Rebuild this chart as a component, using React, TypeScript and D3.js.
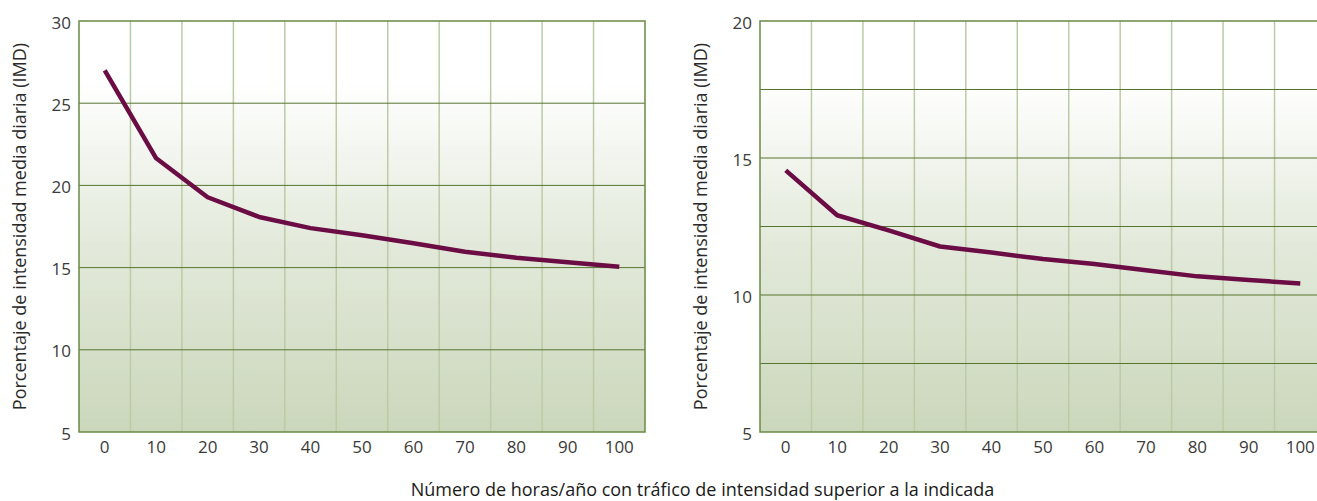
import { useEffect, useRef } from 'react';
import * as d3 from 'd3';

// horas/año (categorias del eje X)
const hours = [0, 10, 20, 30, 40, 50, 60, 70, 80, 90, 100];

// % IMD, grafico izquierdo
const leftValues = [27.0, 21.65, 19.28, 18.08, 17.4, 16.97, 16.48, 15.96, 15.6, 15.32, 15.05];
// % IMD, grafico derecho
const rightValues = [14.55, 12.91, 12.36, 11.77, 11.55, 11.31, 11.13, 10.9, 10.68, 10.55, 10.42];

const leftTicks = [5, 10, 15, 20, 25, 30];
const rightTicks = [5, 10, 15, 20];
const rightGrid = [7.5, 10, 12.5, 15, 17.5];

const yTitle = 'Porcentaje de intensidad media diaria (IMD)';
const xTitle = 'Número de horas/año con tráfico de intensidad superior a la indicada';

const W = 1317;
const H = 501;
const FONT = '"Open Sans", "Noto Sans", sans-serif';

export default function App() {
	const svgRef = useRef<SVGSVGElement | null>(null);

	useEffect(() => {
		if (!svgRef.current) return;
		const svg = d3.select(svgRef.current);
		svg.selectAll('*').remove();

		const top = 21;
		const bottom = 432;
		const plotW = 566;

		// fondo degradado
		const defs = svg.append('defs');
		const grad = defs
			.append('linearGradient')
			.attr('id', 'bg')
			.attr('x1', 0)
			.attr('y1', 0)
			.attr('x2', 0)
			.attr('y2', 1);
		grad.append('stop').attr('offset', '0%').attr('stop-color', '#ffffff');
		grad.append('stop').attr('offset', '15%').attr('stop-color', '#ffffff');
		grad.append('stop').attr('offset', '55%').attr('stop-color', '#e2e9da');
		grad.append('stop').attr('offset', '100%').attr('stop-color', '#cbd7bb');

		const drawPanel = (
			x0: number,
			values: number[],
			domain: [number, number],
			ticks: number[],
			grid: number[],
			titleX: number
		) => {
			const x = d3
				.scaleBand<number>()
				.domain(hours)
				.range([x0, x0 + plotW])
				.paddingInner(0)
				.paddingOuter(0);
			const y = d3.scaleLinear().domain(domain).range([bottom, top]);

			const g = svg.append('g');

			g.append('rect')
				.attr('x', x0)
				.attr('y', top)
				.attr('width', plotW)
				.attr('height', bottom - top)
				.attr('fill', 'url(#bg)');

			// lineas verticales (limites de banda)
			g.append('g')
				.selectAll('line')
				.data(hours.slice(1))
				.join('line')
				.attr('x1', (d) => x(d)!)
				.attr('x2', (d) => x(d)!)
				.attr('y1', top)
				.attr('y2', bottom)
				.attr('stroke', '#bccba6')
				.attr('stroke-width', 1.5);

			// lineas horizontales
			g.append('g')
				.selectAll('line')
				.data(grid)
				.join('line')
				.attr('x1', x0)
				.attr('x2', x0 + plotW)
				.attr('y1', (d) => y(d))
				.attr('y2', (d) => y(d))
				.attr('stroke', '#56752f')
				.attr('stroke-width', 1);

			// marco
			g.append('rect')
				.attr('x', x0)
				.attr('y', top)
				.attr('width', plotW)
				.attr('height', bottom - top)
				.attr('fill', 'none')
				.attr('stroke', '#6a8a44')
				.attr('stroke-width', 1.5);

			// linea de datos
			const line = d3
				.line<number>()
				.x((_, i) => x(hours[i])! + x.bandwidth() / 2)
				.y((d) => y(d))
				.curve(d3.curveLinear);
			g.append('path')
				.datum(values)
				.attr('d', line)
				.attr('fill', 'none')
				.attr('stroke', '#6b0c45')
				.attr('stroke-width', 4.5)
				.attr('stroke-linejoin', 'round');

			// etiquetas eje Y
			g.append('g')
				.selectAll('text')
				.data(ticks)
				.join('text')
				.attr('x', x0 - 8)
				.attr('y', (d) => y(d))
				.attr('dy', '0.45em')
				.attr('text-anchor', 'end')
				.attr('font-family', FONT)
				.attr('font-size', 17)
				.attr('fill', '#3a3a3a')
				.text((d) => String(d));

			// etiquetas eje X
			g.append('g')
				.selectAll('text')
				.data(hours)
				.join('text')
				.attr('x', (d) => x(d)! + x.bandwidth() / 2)
				.attr('y', bottom + 21)
				.attr('text-anchor', 'middle')
				.attr('font-family', FONT)
				.attr('font-size', 17)
				.attr('fill', '#3a3a3a')
				.text((d) => String(d));

			// titulo eje Y
			g.append('text')
				.attr('transform', `translate(${titleX},${(top + bottom) / 2}) rotate(-90)`)
				.attr('text-anchor', 'middle')
				.attr('dy', '0.35em')
				.attr('font-family', FONT)
				.attr('font-size', 18)
				.attr('fill', '#2a2a2a')
				.text(yTitle);
		};

		drawPanel(79, leftValues, [5, 30], leftTicks, [10, 15, 20, 25], 20);
		drawPanel(760, rightValues, [5, 20], rightTicks, rightGrid, 701);

		svg.append('text')
			.attr('x', (79 + 760 + plotW) / 2)
			.attr('y', 496)
			.attr('text-anchor', 'middle')
			.attr('font-family', FONT)
			.attr('font-size', 18)
			.attr('fill', '#1a1a1a')
			.text(xTitle);
	}, []);

	return (
		<svg
			ref={svgRef}
			width={W}
			height={H}
			style={{ position: 'absolute', left: 0, top: 0, background: '#ffffff' }}
		/>
	);
}
